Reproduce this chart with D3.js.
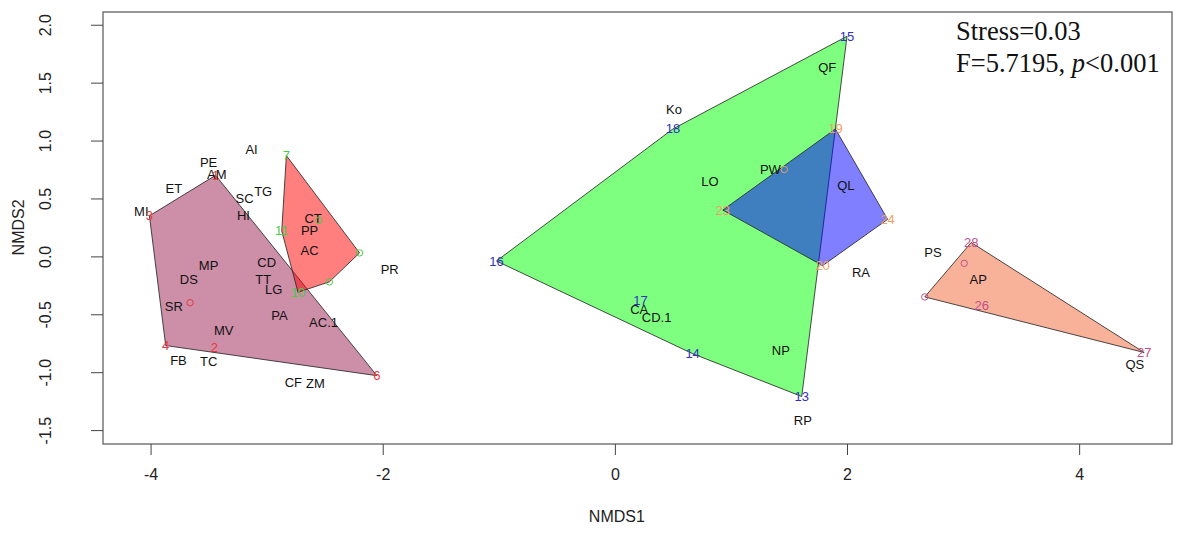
<!DOCTYPE html>
<html>
<head>
<meta charset="utf-8">
<script src="https://cdn.jsdelivr.net/npm/d3@7"></script>
<style>
  html, body { margin: 0; padding: 0; background: #fff; }
  svg { display: block; }
  text { font-family: "Liberation Sans", Arial, sans-serif; }
</style>
</head>
<body>
<svg id="chart" width="1184" height="543"></svg>
<script>
// NMDS site scores (numbered sites) and their grouping
const siteIds    = ["1", "2", "3", "4", "5", "6",
                    "7", "8", "9", "10", "11", "12",
                    "13", "14", "15", "16", "17", "18",
                    "19", "20", "21", "23", "24",
                    "25", "26", "27", "28", "29"];
const siteX      = [-3.44, -3.45, -4.01, -3.87, -3.66, -2.05,
                    -2.83, -2.46, -2.20, -2.73, -2.87, -2.55,
                     1.61,  0.67,  2.00, -1.02,  0.22,  0.50,
                     1.90,  1.79,  1.46,  0.93,  2.35,
                     2.67,  3.16,  4.56,  3.07,  3.01];
const siteY      = [ 0.70, -0.79,  0.35, -0.77, -0.40, -1.03,
                     0.87, -0.22,  0.03, -0.31,  0.22,  0.31,
                    -1.21, -0.84,  1.90, -0.04, -0.38,  1.10,
                     1.10, -0.08,  0.75,  0.40,  0.32,
                    -0.35, -0.42, -0.83,  0.12, -0.06];
const siteGroup  = [0, 0, 0, 0, 0, 0,
                    1, 1, 1, 1, 1, 1,
                    2, 2, 2, 2, 2, 2,
                    3, 3, 3, 3, 3,
                    4, 4, 4, 4, 4];
// 1 = site number printed, 0 = only a point symbol (label would overlap)
const siteLabelled = [1, 1, 1, 1, 0, 1,
                      1, 0, 0, 1, 1, 0,
                      1, 1, 1, 1, 1, 1,
                      1, 1, 0, 1, 1,
                      0, 1, 1, 1, 0];

// Species scores
const specNames = ["AI", "PE", "AM", "ET", "SC", "TG", "MI", "HI", "CT", "PP", "AC", "PR",
                   "CD", "MP", "DS", "TT", "LG", "SR", "PA", "AC.1", "MV", "FB", "TC", "CF", "ZM",
                   "Ko", "LO", "PW", "QF", "QL", "RA", "CA", "CD.1", "NP", "RP",
                   "PS", "AP", "QS"];
const specX = [-3.13, -3.50, -3.43, -3.80, -3.19, -3.03, -4.08, -3.20, -2.60, -2.63, -2.63, -1.94,
               -3.00, -3.50, -3.67, -3.03, -2.94, -3.80, -2.89, -2.51, -3.37, -3.76, -3.50, -2.77, -2.58,
                0.51,  0.82,  1.34,  1.83,  1.99,  2.12,  0.21,  0.36,  1.43,  1.62,
                2.74,  3.13,  4.48];
const specY = [ 0.92,  0.81,  0.71,  0.59,  0.50,  0.56,  0.39,  0.35,  0.33,  0.22,  0.05, -0.11,
               -0.05, -0.08, -0.20, -0.20, -0.29, -0.43, -0.51, -0.57, -0.64, -0.90, -0.91, -1.09, -1.10,
                1.27,  0.65,  0.75,  1.63,  0.61, -0.14, -0.46, -0.53, -0.81, -1.42,
                0.03, -0.20, -0.93];

// Group colours: hull fill (drawn half transparent) and site label colour
const hullFill   = ["#9b1d51", "#ff0000", "#00ff00", "#0000ff", "#f36535"];
const labelColor = ["#e8383d", "#45d045", "#3030c8", "#f0a060", "#c0508a"];

const xTicks = [-4, -2, 0, 2, 4];
const yTicks = [-1.5, -1.0, -0.5, 0.0, 0.5, 1.0, 1.5, 2.0];

const svg = d3.select("#chart");
const plot = { left: 103, right: 1172, top: 12, bottom: 444 };

const x = d3.scaleLinear().domain([-4.41, 4.80]).range([plot.left, plot.right]);
const y = d3.scaleLinear().domain([-1.62, 2.11]).range([plot.bottom, plot.top]);

// Convex hulls per group
const hullLayer = svg.append("g");
hullFill.forEach((col, g) => {
  const pts = siteIds.map((_, i) => i).filter(i => siteGroup[i] === g)
    .map(i => [x(siteX[i]), y(siteY[i])]);
  const hull = d3.polygonHull(pts);
  hullLayer.append("path")
    .attr("d", "M" + hull.map(p => p.join(",")).join("L") + "Z")
    .attr("fill", col)
    .attr("fill-opacity", 0.5)
    .attr("stroke", "#2a2a2a")
    .attr("stroke-opacity", 0.85)
    .attr("stroke-width", 1);
});

// Species names
svg.append("g").selectAll("text").data(specNames).join("text")
  .attr("x", (d, i) => x(specX[i]))
  .attr("y", (d, i) => y(specY[i]))
  .attr("text-anchor", "middle")
  .attr("dominant-baseline", "central")
  .attr("font-size", 13)
  .attr("fill", "#111")
  .text(d => d);

// Site numbers or point symbols
const siteLayer = svg.append("g");
siteIds.forEach((id, i) => {
  const col = labelColor[siteGroup[i]];
  if (siteLabelled[i]) {
    siteLayer.append("text")
      .attr("x", x(siteX[i]))
      .attr("y", y(siteY[i]))
      .attr("text-anchor", "middle")
      .attr("dominant-baseline", "central")
      .attr("font-size", 13)
      .attr("fill", col)
      .text(id);
  } else {
    siteLayer.append("circle")
      .attr("cx", x(siteX[i]))
      .attr("cy", y(siteY[i]))
      .attr("r", 3.2)
      .attr("fill", "none")
      .attr("stroke", col)
      .attr("stroke-width", 1);
  }
});

// Plot box
svg.append("rect")
  .attr("x", plot.left).attr("y", plot.top)
  .attr("width", plot.right - plot.left).attr("height", plot.bottom - plot.top)
  .attr("fill", "none").attr("stroke", "#555").attr("stroke-width", 1.2);

// Axes (plain hyphen minus signs, as R prints them)
const fmtX = d => String(d);
const fmtY = d => d.toFixed(1);
const xAxis = svg.append("g")
  .attr("transform", `translate(0,${plot.bottom})`)
  .call(d3.axisBottom(x).tickValues(xTicks).tickSize(11).tickPadding(14).tickFormat(fmtX));
const yAxis = svg.append("g")
  .attr("transform", `translate(${plot.left},0)`)
  .call(d3.axisLeft(y).tickValues(yTicks).tickSize(12).tickFormat(fmtY));
[xAxis, yAxis].forEach(a => {
  a.select(".domain").remove();
  a.selectAll(".tick line").attr("stroke", "#444");
  a.selectAll(".tick text").attr("font-size", 16).attr("fill", "#222")
    .attr("font-family", "'Liberation Sans', Arial, sans-serif");
});
// rotated y tick labels, centred on their ticks
yAxis.selectAll(".tick").each(function () {
  d3.select(this).select("text")
    .attr("transform", `translate(${45 - plot.left},0) rotate(-90)`)
    .attr("text-anchor", "middle")
    .attr("dominant-baseline", "central")
    .attr("x", 0).attr("y", 0).attr("dy", null);
});

// Axis titles
svg.append("text")
  .attr("x", x(0) + 2).attr("y", 522)
  .attr("text-anchor", "middle").attr("font-size", 16).attr("fill", "#222")
  .text("NMDS1");
svg.append("text")
  .attr("transform", `translate(18,${y(0.25)}) rotate(-90)`)
  .attr("text-anchor", "middle").attr("dominant-baseline", "central")
  .attr("font-size", 16).attr("fill", "#222")
  .text("NMDS2");

// Ordination statistics
const serif = "'Liberation Serif', 'Times New Roman', serif";
const stats = svg.append("g").attr("font-size", 26.5).attr("fill", "#111");
stats.append("text").attr("x", 956).attr("y", 40)
  .style("font-family", serif)
  .text("Stress=0.03");
const t2 = stats.append("text").attr("x", 956).attr("y", 72)
  .style("font-family", serif);
t2.append("tspan").text("F=5.7195, ");
t2.append("tspan").attr("font-style", "italic").text("p");
t2.append("tspan").text("<0.001");
</script>
</body>
</html>
